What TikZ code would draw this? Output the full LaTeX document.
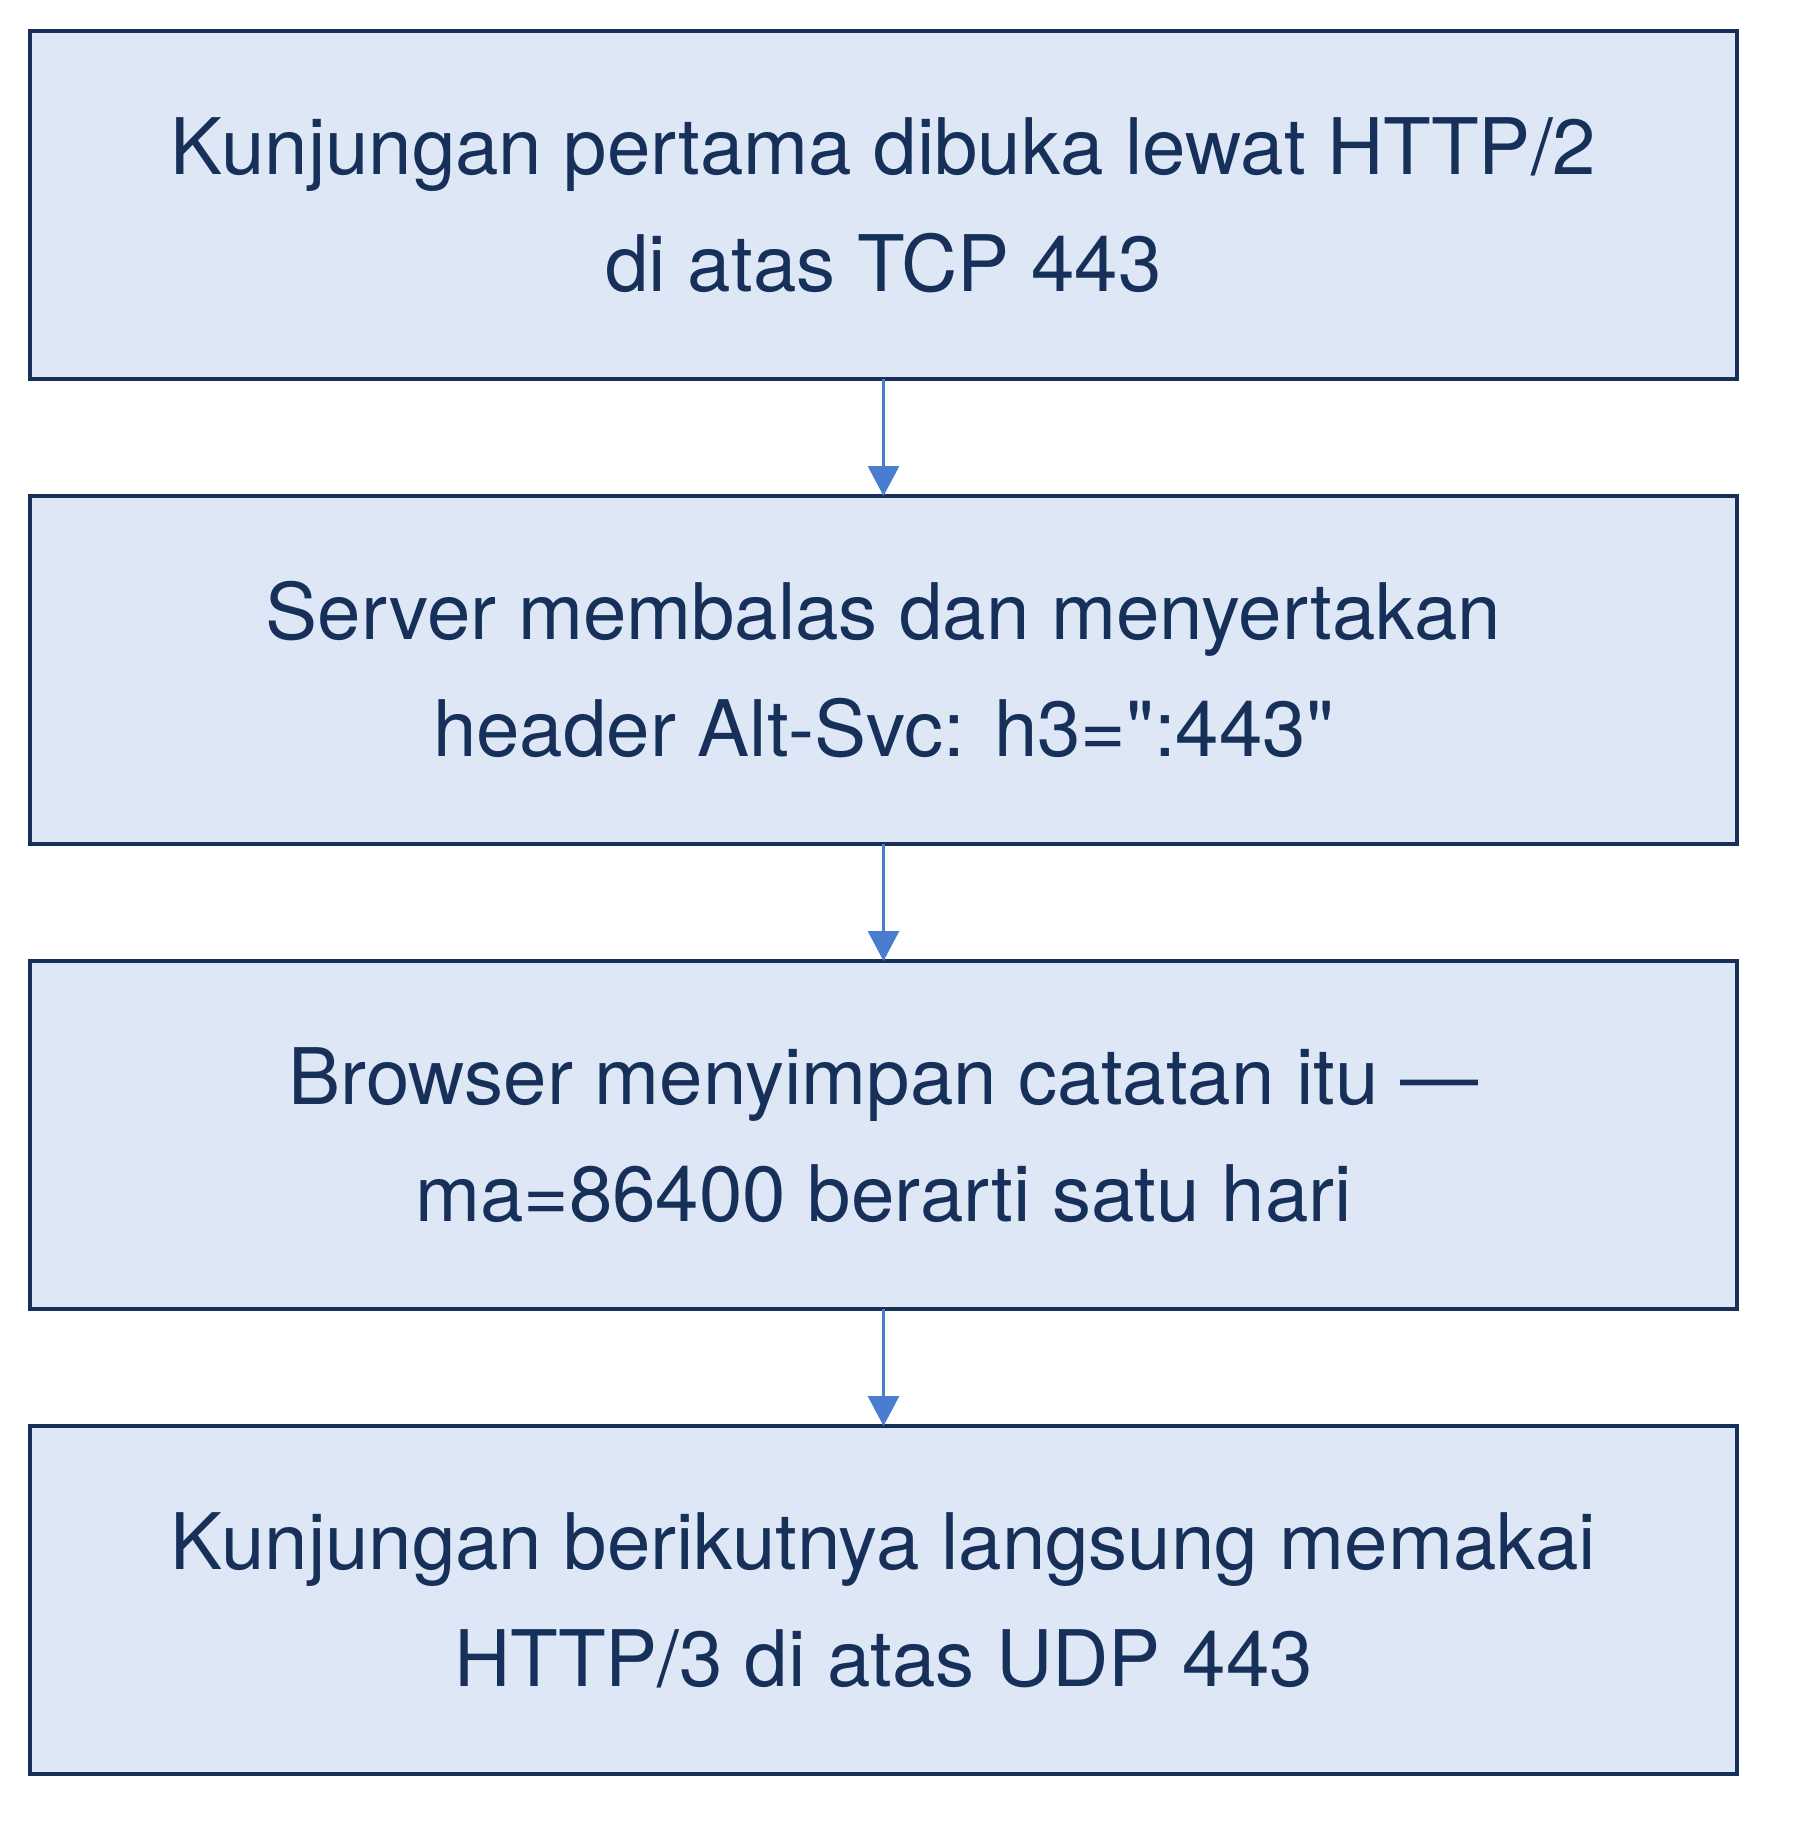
\documentclass[tikz,border=0pt]{standalone}
\usepackage{fontspec}
\setmainfont{TeX Gyre Heros}
\usetikzlibrary{positioning, arrows.meta}
\definecolor{flowNavy}{RGB}{22, 48, 90}
\definecolor{flowFill}{RGB}{221, 231, 245}
\definecolor{flowArrow}{RGB}{74, 124, 208}

\begin{document}
\begin{tikzpicture}
            \tikzstyle{box} = [draw=flowNavy, fill=flowFill, line width=1.8pt, outer sep=0pt, minimum width=34.14cm, minimum height=6.96cm, text=flowNavy, font=\fontsize{44.4}{66.6}\selectfont, align=center]
            \tikzstyle{arrow} = [-{Triangle[length=0.6cm, width=0.62cm]}, line width=1.7pt, flowArrow]
            \useasboundingbox (0,0) rectangle (36,-36.78);

            % Steps, top to bottom
            \node[box] (s1) at (17.67,-4.1) {Kunjungan pertama dibuka lewat HTTP/2\\di atas TCP 443};
            \node[box, below=2.34cm of s1] (s2) {Server membalas dan menyertakan\\header Alt-Svc: h3=\textquotedbl:443\textquotedbl};
            \node[box, below=2.34cm of s2] (s3) {Browser menyimpan catatan itu —\\ma=86400 berarti satu hari};
            \node[box, below=2.34cm of s3] (s4) {Kunjungan berikutnya langsung memakai\\HTTP/3 di atas UDP 443};
            \draw[arrow] (s1) -- (s2);
            \draw[arrow] (s2) -- (s3);
            \draw[arrow] (s3) -- (s4);
        \end{tikzpicture}
\end{document}
